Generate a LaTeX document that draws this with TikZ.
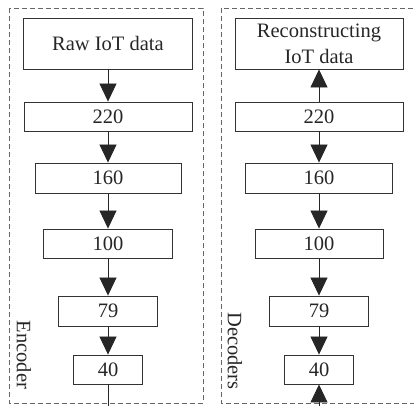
\documentclass[tikz,border=0pt]{standalone}
\usepackage{fontspec}
\setmainfont{Liberation Serif}
\usetikzlibrary{arrows.meta}
\begin{document}
\begin{tikzpicture}[x=1pt,y=-1pt,
  lay/.style={draw=black!80,line width=0.9pt,rectangle,inner sep=0pt,align=center,
    font=\fontsize{20.5}{26}\selectfont,text=black!85},
  panel/.style={draw=black!60,line width=0.8pt,dash pattern=on 5pt off 3pt},
  flow/.style={draw=black!85,line width=0.8pt,-{Triangle[length=18pt,width=17pt]}},
  plain/.style={draw=black!85,line width=0.8pt},
  side/.style={rotate=-90,font=\fontsize{20.5}{26}\selectfont,text=black!85}]
\useasboundingbox (0,0) rectangle (414,405);
% panels
\draw[panel] (9,8) rectangle (203,403);
\draw[panel] (221,8) rectangle (418,403);
% encoder
\node[lay,minimum width=169pt,minimum height=51pt] (raw) at (108,43.5) {Raw IoT data};
\node[lay,minimum width=168pt,minimum height=29pt] (e220) at (108,116.5) {220};
\node[lay,minimum width=146pt,minimum height=30pt] (e160) at (108,178) {160};
\node[lay,minimum width=129pt,minimum height=29pt] (e100) at (108,243.5) {100};
\node[lay,minimum width=99pt,minimum height=30pt] (e79) at (108,311) {79};
\node[lay,minimum width=69pt,minimum height=29pt] (e40) at (108,369.5) {40};
\coordinate (eout) at (108,412);
\draw[flow] (raw) -- (e220);
\draw[flow] (e220) -- (e160);
\draw[flow] (e160) -- (e100);
\draw[flow] (e100) -- (e79);
\draw[flow] (e79) -- (e40);
\draw[plain] (e40) -- (eout);
\node[side] (enc) at (24,355) {Encoder};
% decoder
\node[lay,minimum width=168pt,minimum height=51pt] (rec) at (319,43.5) {Reconstructing\\IoT data};
\node[lay,minimum width=168pt,minimum height=29pt] (d220) at (319,116.5) {220};
\node[lay,minimum width=147pt,minimum height=30pt] (d160) at (319,178) {160};
\node[lay,minimum width=128pt,minimum height=29pt] (d100) at (319,243.5) {100};
\node[lay,minimum width=99pt,minimum height=30pt] (d79) at (319,311) {79};
\node[lay,minimum width=69pt,minimum height=29pt] (d40) at (319,369.5) {40};
\coordinate (din) at (319,412);
\draw[flow] (d220) -- (rec);
\draw[flow] (d220) -- (d160);
\draw[flow] (d160) -- (d100);
\draw[flow] (d100) -- (d79);
\draw[flow] (d79) -- (d40);
\draw[flow] (din) -- (d40);
\node[side] (dec) at (235,351) {Decoders};
\end{tikzpicture}
\end{document}
